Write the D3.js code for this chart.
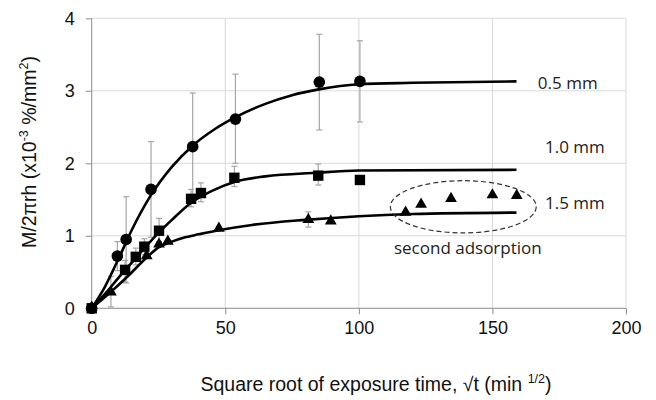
<!DOCTYPE html>
<html>
<head>
<meta charset="utf-8">
<script src="https://cdn.jsdelivr.net/npm/d3@7"></script>
<style>
  body { margin: 0; background: #fff; }
</style>
</head>
<body>
<svg width="656" height="400" font-family="Liberation Sans, Arial, sans-serif"></svg>
<script>
// measured points: [sqrt t, M/2πrh, errLow, errHigh]
const pts05 = [
  [0, 0, null, null], [9.6, 0.72, 0.52, 0.92], [12.9, 0.95, 0.35, 1.54],
  [22.2, 1.64, 0.98, 2.30], [37.8, 2.23, 1.49, 2.97], [53.8, 2.61, 2.00, 3.23],
  [85.2, 3.12, 2.46, 3.78], [100.4, 3.13, 2.57, 3.69]
];
const pts10 = [
  [0, 0, null, null], [12.5, 0.53, 0.36, 0.66], [16.5, 0.71, 0.60, 0.83],
  [19.7, 0.85, 0.74, 0.96], [25.2, 1.07, 0.92, 1.24], [37.2, 1.51, 1.40, 1.64],
  [40.9, 1.59, 1.47, 1.73], [53.4, 1.80, 1.68, 1.96], [84.8, 1.83, 1.70, 1.99],
  [100.4, 1.77, null, null]
];
const pts15 = [
  [0, 0, null, null], [7.2, 0.21, 0.02, 0.44], [20.6, 0.71, null, null],
  [25.2, 0.87, null, null], [28.5, 0.91, null, null], [47.6, 1.09, null, null],
  [81.1, 1.21, 1.12, 1.33], [89.5, 1.19, null, null], [117.5, 1.31, null, null],
  [123.3, 1.42, null, null], [134.5, 1.50, null, null], [150, 1.55, null, null],
  [159.1, 1.54, null, null]
];

// fitted curves
const fit05 = [[0,0],[5,0.3],[10,0.68],[15,1.08],[22,1.55],[30,1.95],[38,2.25],[46,2.47],[54,2.64],[65,2.82],[75,2.94],[85,3.02],[100,3.09],[120,3.11],[159,3.13]];
const fit10 = [[0,0],[5,0.2],[10,0.42],[15,0.63],[20,0.84],[25,1.04],[30,1.22],[37,1.45],[45,1.62],[54,1.75],[65,1.82],[84,1.87],[100,1.9],[159,1.91]];
const fit15 = [[0,0],[7,0.22],[14,0.46],[20,0.68],[25,0.84],[30,0.92],[35,0.98],[40,1.02],[48,1.08],[60,1.15],[80,1.22],[100,1.27],[120,1.3],[159,1.32]];

const xTicks = [0, 50, 100, 150, 200];
const yTicks = [0, 1, 2, 3, 4];
const seriesLabels = ["0.5 mm", "1.0 mm", "1.5 mm"];

const margin = {left: 91.7, top: 18.3};
const W = 534.3, H = 290;

const svg = d3.select("svg");
const g = svg.append("g").attr("transform", `translate(${margin.left},${margin.top})`);

const x = d3.scaleLinear().domain([0, 200]).range([0, W]);
const y = d3.scaleLinear().domain([0, 4]).range([H, 0]);

// grid
g.append("g").selectAll("line").data(yTicks.slice(1)).enter().append("line")
  .attr("x1", 0).attr("x2", W).attr("y1", d => y(d)).attr("y2", d => y(d))
  .attr("stroke", "#d9d9d9");
g.append("g").selectAll("line").data(xTicks.slice(1)).enter().append("line")
  .attr("y1", 0).attr("y2", H).attr("x1", d => x(d)).attr("x2", d => x(d))
  .attr("stroke", "#d9d9d9");

// axes
const xAxis = d3.axisBottom(x).tickValues(xTicks).tickFormat(d3.format("d"))
  .tickSize(6).tickPadding(7);
g.append("g").attr("transform", `translate(0,${H})`)
  .call(xAxis)
  .call(a => {
    a.attr("font-family", null).attr("font-size", 18);
    a.select(".domain").attr("stroke", "#8c8c8c").attr("d", `M0,0H${W}`);
    a.selectAll(".tick line").attr("stroke", "#8c8c8c");
    a.selectAll("text").attr("fill", "#111");
  });
const yAxis = d3.axisLeft(y).tickValues(yTicks).tickFormat(d3.format("d"))
  .tickSize(6).tickPadding(11);
g.append("g")
  .call(yAxis)
  .call(a => {
    a.attr("font-family", null).attr("font-size", 18);
    a.select(".domain").attr("stroke", "#8c8c8c").attr("d", `M0,${H}V0`);
    a.selectAll(".tick line").attr("stroke", "#8c8c8c");
    a.selectAll("text").attr("fill", "#111");
  });

// error bars
const allPts = pts05.concat(pts10, pts15).filter(d => d[2] != null);
const eb = g.append("g").attr("stroke", "#a6a6a6").attr("stroke-width", 1.2);
eb.selectAll("line.v").data(allPts).enter().append("line")
  .attr("x1", d => x(d[0])).attr("x2", d => x(d[0]))
  .attr("y1", d => y(d[2])).attr("y2", d => y(d[3]));
eb.selectAll("line.lo").data(allPts).enter().append("line")
  .attr("x1", d => x(d[0]) - 3).attr("x2", d => x(d[0]) + 3)
  .attr("y1", d => y(d[2])).attr("y2", d => y(d[2]));
eb.selectAll("line.hi").data(allPts).enter().append("line")
  .attr("x1", d => x(d[0]) - 3).attr("x2", d => x(d[0]) + 3)
  .attr("y1", d => y(d[3])).attr("y2", d => y(d[3]));

// fitted lines
const line = d3.line().x(d => x(d[0])).y(d => y(d[1])).curve(d3.curveMonotoneX);
[fit05, fit10, fit15].forEach(f => {
  g.append("path").datum(f).attr("d", line)
    .attr("fill", "none").attr("stroke", "#000").attr("stroke-width", 2.6);
});

// markers
g.append("g").selectAll("path").data(pts15).enter().append("path")
  .attr("d", d3.symbol().type(d3.symbolTriangle).size(60))
  .attr("transform", d => `translate(${x(d[0])},${y(d[1]) - 1})`)
  .attr("fill", "#000");
g.append("g").selectAll("circle").data(pts05).enter().append("circle")
  .attr("cx", d => x(d[0])).attr("cy", d => y(d[1])).attr("r", 5.8)
  .attr("fill", "#000");
g.append("g").selectAll("rect").data(pts10).enter().append("rect")
  .attr("x", d => x(d[0]) - 5.2).attr("y", d => y(d[1]) - 5.2)
  .attr("width", 10.4).attr("height", 10.4).attr("fill", "#000");

// second adsorption ellipse
g.append("ellipse")
  .attr("cx", x(139.1)).attr("cy", y(1.40))
  .attr("rx", x(27.3) - x(0)).attr("ry", y(0) - y(0.36))
  .attr("fill", "none").attr("stroke", "#333").attr("stroke-width", 1.2)
  .attr("stroke-dasharray", "5,3");

// annotations
const ann = g.append("g").attr("font-size", 17).attr("fill", "#222")
  .attr("font-family", "Open Sans, sans-serif");
ann.append("text").attr("x", x(167)).attr("y", y(3.10)).attr("dy", "0.35em").text(seriesLabels[0]);
ann.append("text").attr("x", x(169.7)).attr("y", y(2.23)).attr("dy", "0.35em").text(seriesLabels[1]);
ann.append("text").attr("x", x(169.7)).attr("y", y(1.45)).attr("dy", "0.35em").text(seriesLabels[2]);
ann.append("text").attr("x", x(140.8)).attr("y", y(0.83)).attr("dy", "0.35em")
  .attr("text-anchor", "middle").text("second adsorption");

// axis titles
const xt = svg.append("text").attr("x", 376).attr("y", 391)
  .attr("text-anchor", "middle").attr("font-size", 19.5).attr("fill", "#111");
xt.append("tspan").text("Square root of exposure time, \u221At (min ");
xt.append("tspan").attr("font-size", 12.5).attr("dy", -8).text("1/2");
xt.append("tspan").attr("dy", 8).text(")");

const yt = svg.append("text")
  .attr("transform", "translate(36,152) rotate(-90)")
  .attr("text-anchor", "middle").attr("font-size", 19.5).attr("fill", "#111");
yt.append("tspan").text("M/2\u03C0rh (x10");
yt.append("tspan").attr("font-size", 12.5).attr("dy", -8).text("-3");
yt.append("tspan").attr("dy", 8).text(" %/mm");
yt.append("tspan").attr("font-size", 12.5).attr("dy", -8).text("2");
yt.append("tspan").attr("dy", 8).text(")");
</script>
</body>
</html>
